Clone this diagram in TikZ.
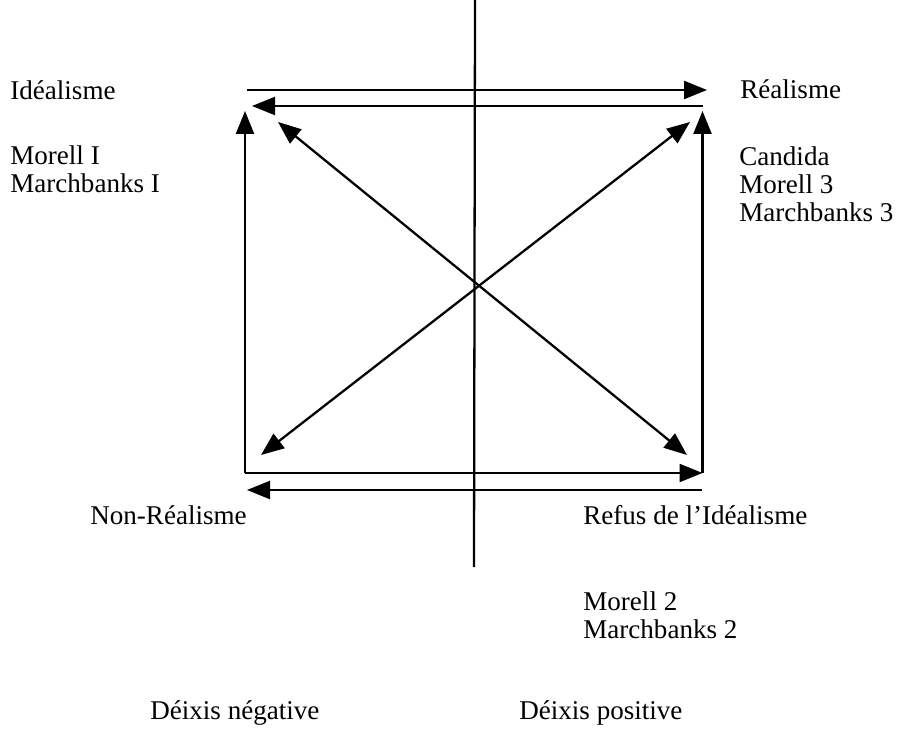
\documentclass[tikz,border=0pt]{standalone}
\usepackage{fontspec}
\setmainfont{Liberation Serif}
\usetikzlibrary{arrows.meta}

\begin{document}
\begin{tikzpicture}[
                lab/.style={inner sep=0pt, font=\fontsize{15.4}{15.9}\selectfont},
                list/.style={lab, align=left, anchor=north west},
                arrow/.style={-{Triangle[length=0.46cm,width=0.36cm]}, line width=1.3pt},
                darrow/.style={{Triangle[length=0.46cm,width=0.36cm]}-{Triangle[length=0.46cm,width=0.36cm]}, line width=1.3pt}]

                \useasboundingbox (0,0) rectangle (18.42,14.66);

                % axis
                \coordinate (axtop) at (9.5,14.66);
                \coordinate (axbot) at (9.48,3.32);
                \draw[line width=1.3pt] (axtop) -- (axbot);

                % square corners
                \coordinate (lt) at (4.9,12.44);
                \coordinate (bl) at (4.9,5.2);
                \coordinate (br) at (14.05,5.2);
                \coordinate (rt) at (14.05,12.44);
                \coordinate (tr) at (14.05,12.54);
                \coordinate (tl) at (5.04,12.54);

                \draw[arrow] (bl) -- (lt);
                \draw[arrow] (bl) -- (br);
                \draw[arrow] (br) -- (rt);
                \draw[arrow] (tr) -- (tl);

                % outer arrows
                \coordinate (ota) at (4.94,12.86);
                \coordinate (otb) at (14.14,12.86);
                \coordinate (oba) at (14.04,4.86);
                \coordinate (obb) at (4.94,4.86);
                \draw[arrow] (ota) -- (otb);
                \draw[arrow] (oba) -- (obb);

                % diagonals
                \coordinate (d1a) at (5.56,12.22);
                \coordinate (d1b) at (13.74,5.56);
                \coordinate (d2a) at (13.8,12.22);
                \coordinate (d2b) at (5.22,5.56);
                \draw[darrow] (d1a) -- (d1b);
                \draw[darrow] (d2a) -- (d2b);

                % labels
                \node[lab, anchor=base west] (ideal) at (0.2,12.66) {Idéalisme};
                \node[list] (idealw) at (0.2,11.75) {Morell I\\Marchbanks I};

                \node[lab, anchor=base west] (real) at (14.8,12.68) {Réalisme};
                \node[list] (realw) at (14.78,11.73) {Candida\\Morell 3\\Marchbanks 3};

                \node[lab, anchor=base west] (nonreal) at (1.8,4.18) {Non-Réalisme};
                \node[lab, anchor=base west] (refus) at (11.66,4.18) {Refus de l'Idéalisme};
                \node[list] (refusw) at (11.66,2.83) {Morell 2\\Marchbanks 2};

                \node[lab, anchor=base west] (neg) at (3.0,0.28) {Déixis négative};
                \node[lab, anchor=base west] (pos) at (10.38,0.28) {Déixis positive};
            \end{tikzpicture}
\end{document}
